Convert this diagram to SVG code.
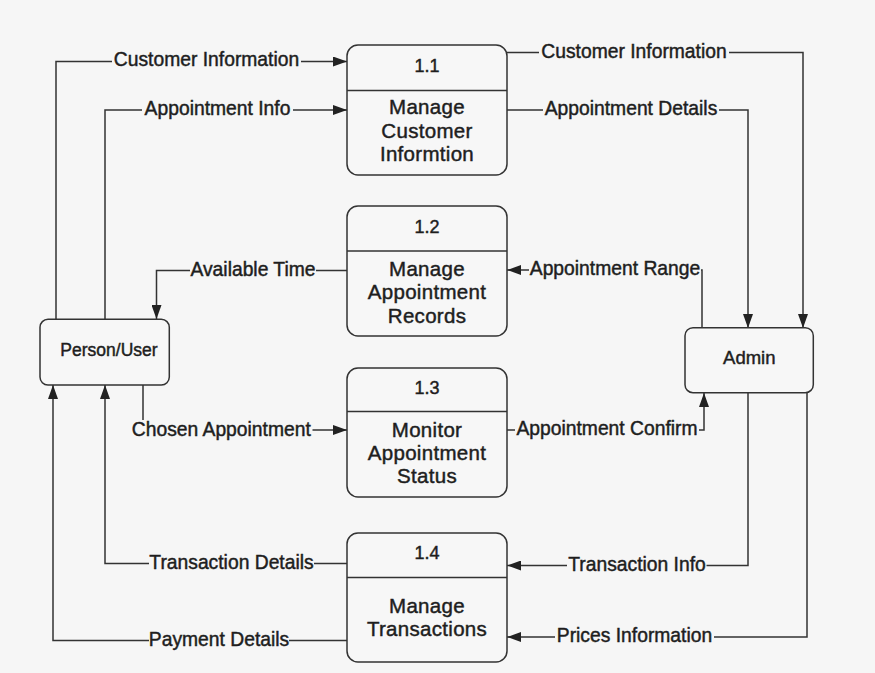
<svg xmlns="http://www.w3.org/2000/svg" width="875" height="673" viewBox="0 0 875 673">
  <style>
    .bg { fill: #f6f6f6; }
    .box { fill: #f7f7f7; stroke: #333; stroke-width: 1.5; }
    .div { stroke: #333; stroke-width: 1.5; }
    .conn { fill: none; stroke: #333; stroke-width: 1.5; marker-end: url(#arrow); }
    .lblbg { fill: #f6f6f6; }
    .t { font-family: "Liberation Sans", Arial, sans-serif; fill: #1e1e1e; text-anchor: middle; stroke: #1e1e1e; stroke-width: 0.45; }
    .lbl { font-size: 19.3px; }
    .num { font-size: 18px; }
    .proc { font-size: 20.5px; letter-spacing: 0.3px; }
    .ent { font-size: 17.5px; }
  </style>
  <defs>
    <marker id="arrow" markerUnits="userSpaceOnUse" markerWidth="14" markerHeight="10" refX="14" refY="5" orient="auto">
      <path d="M0,0 L14,5 L0,10 z" fill="#222"/>
    </marker>
  </defs>
  <rect class="bg" x="0" y="0" width="875" height="673"/>

  <g id="connectors">
    <path class="conn" d="M56,319 V61.5 H347"/>
    <path class="conn" d="M105,319 V110 H347"/>
    <path class="conn" d="M507,52.5 H803 V328"/>
    <path class="conn" d="M507,110 H748 V328"/>
    <path class="conn" d="M702,328 V270 H507"/>
    <path class="conn" d="M347,270.5 H156.5 V319"/>
    <path class="conn" d="M143,385 V430 H347"/>
    <path class="conn" d="M507,430 H704 V393"/>
    <path class="conn" d="M748,393 V565.5 H507"/>
    <path class="conn" d="M807,393 V637 H507"/>
    <path class="conn" d="M347,563.5 H105 V385"/>
    <path class="conn" d="M347,640.5 H53 V385"/>

    <g id="labels">
      <rect class="lblbg" x="112" y="53" width="189" height="17"/>
      <text class="t lbl" x="206.5" y="66">Customer Information</text>
      <rect class="lblbg" x="142" y="101.5" width="151" height="17"/>
      <text class="t lbl" x="217.5" y="115">Appointment Info</text>
      <rect class="lblbg" x="539" y="44" width="190" height="17"/>
      <text class="t lbl" x="634" y="57.5">Customer Information</text>
      <rect class="lblbg" x="543" y="101.5" width="176" height="17"/>
      <text class="t lbl" x="631" y="115">Appointment Details</text>
      <rect class="lblbg" x="529" y="261.5" width="172" height="17"/>
      <text class="t lbl" x="615" y="275">Appointment Range</text>
      <rect class="lblbg" x="190" y="262" width="126" height="17"/>
      <text class="t lbl" x="253" y="275.5">Available Time</text>
      <rect class="lblbg" x="130" y="420" width="182.5" height="20"/>
      <text class="t lbl" x="221.3" y="435.5">Chosen Appointment</text>
      <rect class="lblbg" x="515" y="421.5" width="184" height="17"/>
      <text class="t lbl" x="607" y="435">Appointment Confirm</text>
      <rect class="lblbg" x="567" y="557" width="139.5" height="17"/>
      <text class="t lbl" x="637" y="570.5">Transaction Info</text>
      <rect class="lblbg" x="555" y="628.5" width="159" height="17"/>
      <text class="t lbl" x="634.5" y="642">Prices Information</text>
      <rect class="lblbg" x="149" y="555" width="165" height="17"/>
      <text class="t lbl" x="231.5" y="568.5">Transaction Details</text>
      <rect class="lblbg" x="149" y="632" width="140" height="17"/>
      <text class="t lbl" x="219" y="645.5">Payment Details</text>
    </g>
  </g>

  <g id="p1-1">
    <rect class="box" x="347" y="45" width="160" height="130" rx="11"/>
    <line class="div" x1="347" y1="90.5" x2="507" y2="90.5"/>
    <text class="t num" x="427" y="71.5">1.1</text>
    <text class="t proc" x="427" y="114">Manage</text>
    <text class="t proc" x="427" y="137.7">Customer</text>
    <text class="t proc" x="427" y="161.3">Informtion</text>
  </g>

  <g id="p1-2">
    <rect class="box" x="347" y="206" width="160" height="130" rx="11"/>
    <line class="div" x1="347" y1="251" x2="507" y2="251"/>
    <text class="t num" x="427" y="233">1.2</text>
    <text class="t proc" x="427" y="276">Manage</text>
    <text class="t proc" x="427" y="299.3">Appointment</text>
    <text class="t proc" x="427" y="322.5">Records</text>
  </g>

  <g id="p1-3">
    <rect class="box" x="347" y="368" width="160" height="129" rx="11"/>
    <line class="div" x1="347" y1="411.5" x2="507" y2="411.5"/>
    <text class="t num" x="427" y="394.3">1.3</text>
    <text class="t proc" x="427" y="436.7">Monitor</text>
    <text class="t proc" x="427" y="460">Appointment</text>
    <text class="t proc" x="427" y="483.3">Status</text>
  </g>

  <g id="p1-4">
    <rect class="box" x="347" y="533" width="160" height="129" rx="11"/>
    <line class="div" x1="347" y1="577.5" x2="507" y2="577.5"/>
    <text class="t num" x="427" y="559.3">1.4</text>
    <text class="t proc" x="427" y="612.7">Manage</text>
    <text class="t proc" x="427" y="636">Transactions</text>
  </g>

  <g id="person-user">
    <rect class="box" x="40" y="319.3" width="129.3" height="65.7" rx="8"/>
    <text class="t ent" x="109" y="356">Person/User</text>
  </g>

  <g id="admin">
    <rect class="box" x="685" y="327.7" width="128.3" height="65" rx="8"/>
    <text class="t ent" x="749.3" y="364.3" style="font-size:18.5px">Admin</text>
  </g>
</svg>
